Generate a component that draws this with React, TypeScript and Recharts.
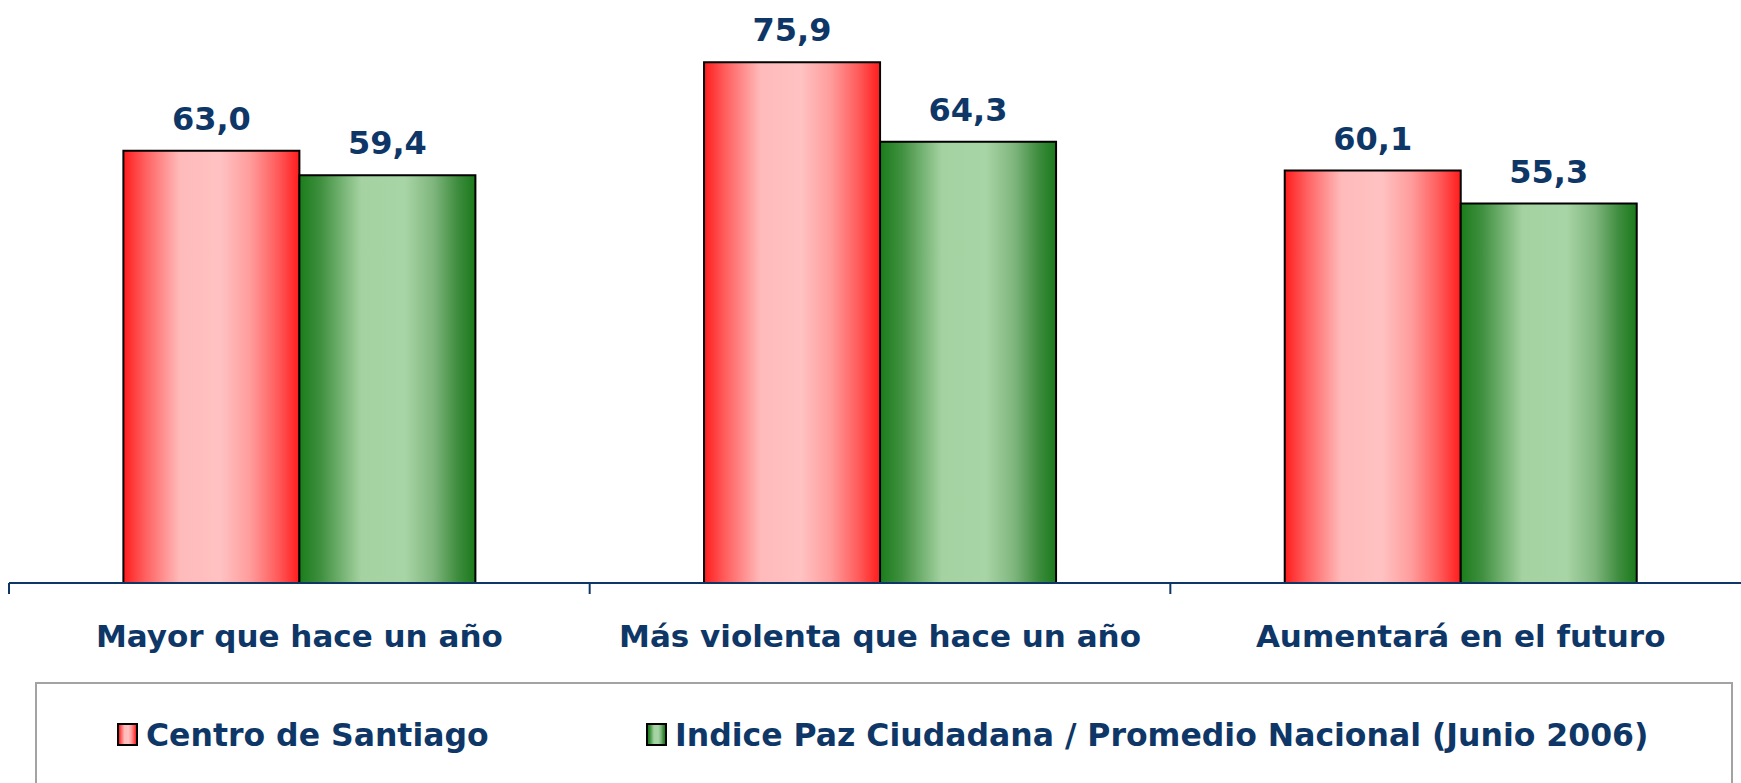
import { BarChart, Bar, XAxis, YAxis, LabelList, Legend } from 'recharts'

const categories = ['Mayor que hace un año', 'Más violenta que hace un año', 'Aumentará en el futuro']
const centroSantiago = [63.0, 75.9, 60.1]
const promedioNacional = [59.4, 64.3, 55.3]
const seriesNames = ['Centro de Santiago', 'Indice Paz Ciudadana / Promedio Nacional (Junio 2006)']

const NAVY = '#0e3767'
const FONT = '"DejaVu Sans", Verdana, sans-serif'

const RED_STOPS = [
  ['0%', '#ff1c1c'],
  ['12%', '#ff5e5e'],
  ['32%', '#ffbaba'],
  ['55%', '#ffc2c2'],
  ['72%', '#ff9c9c'],
  ['88%', '#ff5a5a'],
  ['100%', '#ff1c1c'],
]
const GREEN_STOPS = [
  ['0%', '#1b7d1b'],
  ['12%', '#3f8f3f'],
  ['35%', '#a4d2a1'],
  ['60%', '#a8d5a5'],
  ['76%', '#80b67e'],
  ['90%', '#3e8c3e'],
  ['100%', '#1a7a1a'],
]

const cssGradient = (stops: string[][]) =>
  `linear-gradient(to right, ${stops.map(([o, c]) => `${c} ${o}`).join(', ')})`

const data = categories.map((name, i) => ({
  name,
  centro: centroSantiago[i],
  nacional: promedioNacional[i],
}))

const formatValue = (v: any) => Number(v).toFixed(1).replace('.', ',')

// category ticks sit on the band edges, labels at the band centre
const CategoryTick = (props: any) => {
  const { x, y, payload, index, width, visibleTicksCount } = props
  const band = width / visibleTicksCount
  const last = index === visibleTicksCount - 1
  return (
    <g>
      <line x1={x - band / 2} x2={x - band / 2} y1={y} y2={y + 11} stroke={NAVY} strokeWidth={2} />
      {last && <line x1={x + band / 2} x2={x + band / 2} y1={y} y2={y + 11} stroke={NAVY} strokeWidth={2} />}
      <text
        x={x}
        y={y + 64}
        textAnchor="middle"
        fill={NAVY}
        fontSize={31}
        fontWeight="bold"
        fontFamily={FONT}
      >
        {payload.value}
      </text>
    </g>
  )
}

const LegendBox = () => {
  const items = [
    { name: seriesNames[0], stops: RED_STOPS, left: 80 },
    { name: seriesNames[1], stops: GREEN_STOPS, left: 609 },
  ]
  return (
    <div
      style={{
        position: 'relative',
        width: '100%',
        height: '100%',
        boxSizing: 'border-box',
        border: '2px solid #a3a3a3',
        background: '#fff',
      }}
    >
      {items.map((item) => (
        <div
          key={item.name}
          style={{
            position: 'absolute',
            left: item.left,
            top: 34.5,
            display: 'flex',
            alignItems: 'center',
            whiteSpace: 'nowrap',
          }}
        >
          <div
            style={{
              width: 21,
              height: 23,
              boxSizing: 'border-box',
              border: '2px solid #000',
              background: cssGradient(item.stops),
              marginRight: 8,
            }}
          />
          <span style={{ color: NAVY, fontFamily: FONT, fontWeight: 'bold', fontSize: 31.5, lineHeight: '32px' }}>
            {item.name}
          </span>
        </div>
      ))}
    </div>
  )
}

export default function App() {
  return (
    <div
      style={{
        position: 'absolute',
        left: 0,
        top: 0,
        width: 1741,
        height: 783,
        overflow: 'hidden',
        background: '#fff',
      }}
    >
      <BarChart
        width={1760}
        height={783}
        data={data}
        margin={{ top: 34, right: 9, bottom: 160, left: 9 }}
        barCategoryGap="19.7%"
        barGap={0}
      >
        <defs>
          <linearGradient id="redGrad" x1="0" y1="0" x2="1" y2="0">
            {RED_STOPS.map(([o, c]) => (
              <stop key={o} offset={o} stopColor={c} />
            ))}
          </linearGradient>
          <linearGradient id="greenGrad" x1="0" y1="0" x2="1" y2="0">
            {GREEN_STOPS.map(([o, c]) => (
              <stop key={o} offset={o} stopColor={c} />
            ))}
          </linearGradient>
        </defs>
        <XAxis
          dataKey="name"
          height={40}
          axisLine={{ stroke: NAVY, strokeWidth: 2 }}
          tickLine={false}
          tickSize={0}
          tickMargin={0}
          interval={0}
          tick={<CategoryTick />}
        />
        <YAxis hide domain={[0, 80]} />
        <Legend
          layout="vertical"
          align="center"
          verticalAlign="middle"
          content={<LegendBox />}
          wrapperStyle={{ left: 35, top: 682, width: 1698, height: 130 }}
        />
        <Bar
          dataKey="centro"
          name={seriesNames[0]}
          fill="url(#redGrad)"
          stroke="#000"
          strokeWidth={2}
          isAnimationActive={false}
        >
          <LabelList
            dataKey="centro"
            position="top"
            offset={21}
            formatter={formatValue}
            fill={NAVY}
            fontSize={32}
            fontWeight="bold"
            fontFamily={FONT}
          />
        </Bar>
        <Bar
          dataKey="nacional"
          name={seriesNames[1]}
          fill="url(#greenGrad)"
          stroke="#000"
          strokeWidth={2}
          isAnimationActive={false}
        >
          <LabelList
            dataKey="nacional"
            position="top"
            offset={21}
            formatter={formatValue}
            fill={NAVY}
            fontSize={32}
            fontWeight="bold"
            fontFamily={FONT}
          />
        </Bar>
      </BarChart>
    </div>
  )
}
